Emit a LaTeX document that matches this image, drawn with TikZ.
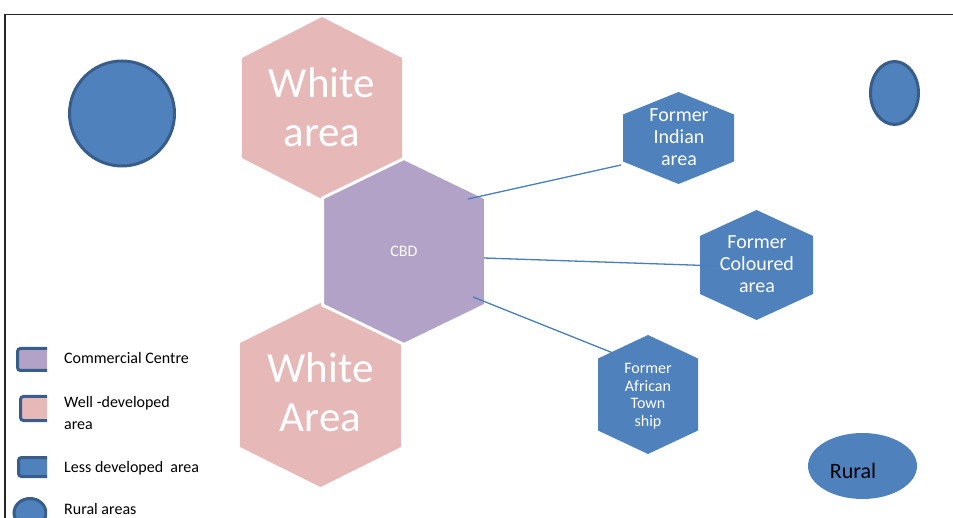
\documentclass[tikz,border=0pt]{standalone}
\usepackage{fontspec}
\setmainfont{Carlito}

\definecolor{pinkarea}{HTML}{E6B9B8}
\definecolor{cbdpurple}{HTML}{B3A2C7}
\definecolor{lessblue}{HTML}{4F81BD}
\definecolor{edgeblue}{HTML}{385D8A}
\definecolor{linkblue}{HTML}{4A7EBB}

% hexagon with pointed top: style, centre x, centre y, half width, half height, half side
\newcommand{\hexpath}[6]{%
	\path[#1] (#2,#3-#5) -- (#2+#4,#3-#6) -- (#2+#4,#3+#6) -- (#2,#3+#5)
	-- (#2-#4,#3+#6) -- (#2-#4,#3-#6) -- cycle;}

\begin{document}
\begin{tikzpicture}[x=1pt, y=-1pt,
	% Define the styles for the areas and labels
	hexlabel/.style={text=white, align=center, inner sep=0pt},
	legendtext/.style={text=black, inner sep=0pt, font=\fontsize{16}{22}\selectfont},
	link/.style={draw=linkblue, line width=1.3pt},
	ruralspot/.style={fill=lessblue, draw=edgeblue, line width=3pt}
	]
	
	\useasboundingbox (0,0) rectangle (953,518);
	
	% --- FRAME ---
	\draw[line width=1.5pt, black!85] (5,518) -- (5,14.5) -- (953,14.5);
	
	% --- AREAS ---
	% Format: \hexpath{style}{x}{y}{half width}{half height}{half side}
	
	\hexpath{fill=pinkarea}{322}{108}{80}{91}{50}        % White area (top)
	\hexpath{fill=pinkarea}{320.5}{395}{80.5}{92}{52}    % White Area (bottom)
	\hexpath{fill=cbdpurple, draw=white, line width=3pt}{404}{251.5}{81.5}{93}{53.5} % CBD
	\hexpath{fill=lessblue}{678.5}{138}{55.5}{46}{23.5}  % Indian
	\hexpath{fill=lessblue}{756.5}{265}{56.5}{55}{29}    % Coloured
	\hexpath{fill=lessblue}{648}{394.5}{50}{59.5}{36}    % African
	
	% rural spots
	\path[ruralspot] (122,113.5) circle (52.5);
	\path[ruralspot] (894.5,93) ellipse (24 and 31.5);
	\path[fill=lessblue] (862.5,466) ellipse (54.5 and 33);
	
	% --- CONNECTORS ---
	\coordinate (cbd-ne) at (468,199);
	\coordinate (cbd-e) at (484,258);
	\coordinate (cbd-se) at (473,297);
	\coordinate (ind-sw) at (621,165);
	\coordinate (col-in) at (720,266);
	\coordinate (afr-nw) at (613,353);
	
	\draw[link] (cbd-ne) -- (ind-sw); % to Indian
	\draw[link] (cbd-e) -- (col-in);  % to Coloured
	\draw[link] (cbd-se) -- (afr-nw); % to African
	
	% --- LABELS ---
	\node[hexlabel, font=\fontsize{43}{49}\selectfont] (white-top) at (322,107.5) {White\\area};
	\node[hexlabel, font=\fontsize{43}{49}\selectfont] (white-bot) at (320.5,392.5) {White\\Area};
	\node[hexlabel, font=\fontsize{16}{19}\selectfont] (cbd) at (404,251) {CBD};
	\node[hexlabel, font=\fontsize{20}{22}\selectfont] (indian) at (679,137.5) {Former\\Indian\\area};
	\node[hexlabel, font=\fontsize{20}{22}\selectfont] (coloured) at (757,264.5) {Former\\Coloured\\area};
	\node[hexlabel, font=\fontsize{16}{17.5}\selectfont] (african) at (648,396) {Former\\African\\Town\\ship};
	\node[inner sep=0pt, font=\fontsize{22}{26}\selectfont] (rural) at (853,470.5) {Rural};
	
	% --- LEGEND ---
	\begin{scope}
		\clip (0,0) rectangle (47,518);
		\draw[fill=cbdpurple, draw=edgeblue, line width=3pt, rounded corners=3pt] (17.5,348.5) rectangle (52,370.5);
		\draw[fill=pinkarea, draw=edgeblue, line width=3pt, rounded corners=3pt] (20.5,396.5) rectangle (52,420.5);
		\draw[fill=lessblue, draw=edgeblue, line width=3pt, rounded corners=3pt] (18.5,457.5) rectangle (52,476.5);
		\path[ruralspot] (30,513) ellipse (16 and 14.5);
	\end{scope}
	
	\node[legendtext, anchor=base west] (leg-cc) at (64,364) {Commercial Centre};
	\node[legendtext, anchor=north west, align=left] (leg-well) at (64,396) {Well -developed\\area};
	\node[legendtext, anchor=base west] (leg-less) at (64,472) {Less developed\ \ area};
	\node[legendtext, anchor=base west] (leg-rural) at (64,514) {Rural areas};
	
\end{tikzpicture}
\end{document}
